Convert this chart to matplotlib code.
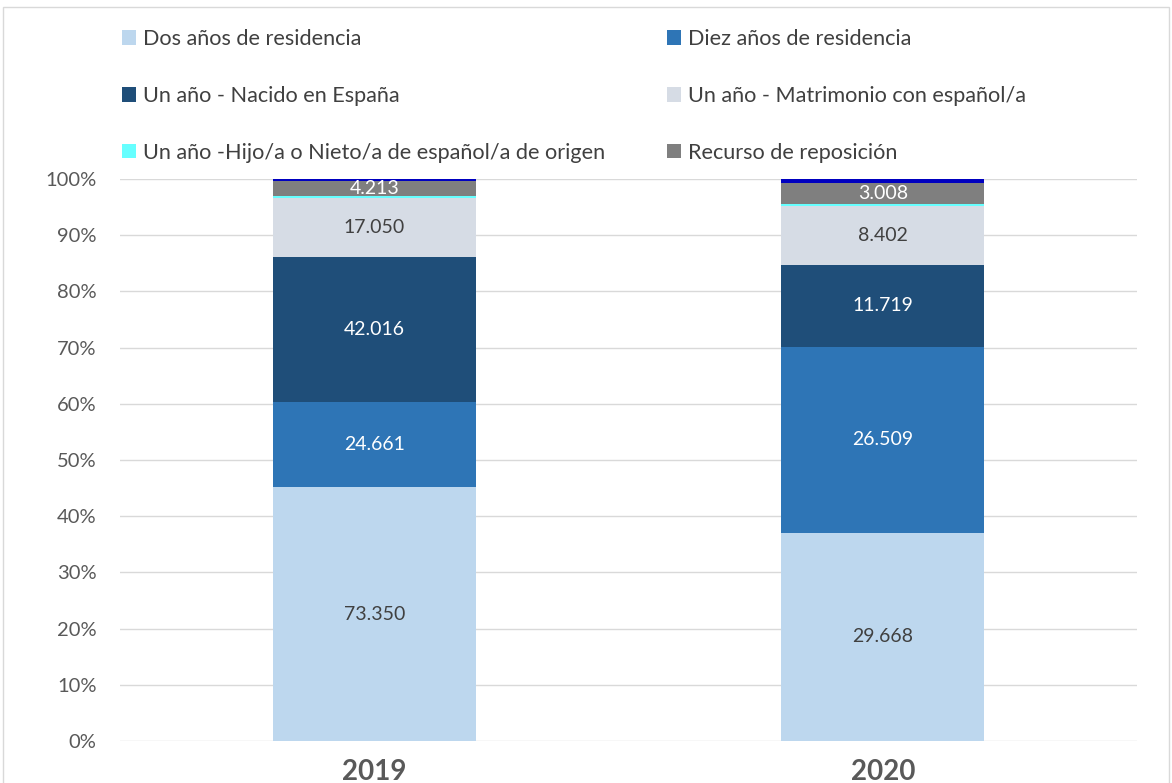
import numpy as np
import matplotlib.pyplot as plt
from matplotlib.patches import Rectangle

years = ["2019", "2020"]
dos_anos = [73350, 29668]
diez_anos = [24661, 26509]
nacido = [42016, 11719]
matrimonio = [17050, 8402]
hijo_nieto = [600, 300]
recurso = [4213, 3008]
otros = [700, 500]

series = [
    ("Dos años de residencia", dos_anos, "#BDD7EE", "#404040"),
    ("Diez años de residencia", diez_anos, "#2E75B6", "white"),
    ("Un año - Nacido en España", nacido, "#1F4E79", "white"),
    ("Un año - Matrimonio con español/a", matrimonio, "#D6DCE5", "#404040"),
    ("Un año -Hijo/a o Nieto/a de español/a de origen", hijo_nieto, "#66FFFF", None),
    ("Recurso de reposición", recurso, "#7F7F7F", "white"),
    ("Otros", otros, "#0000C0", None),
]

plt.rcParams['font.family'] = ['Lato', 'DejaVu Sans']

fig = plt.figure(figsize=(11.72, 7.83), dpi=100)
ax = fig.add_axes([120 / 1172, 42 / 783, 1017 / 1172, 562 / 783])

totals = np.sum([s[1] for s in series], axis=0)
x = np.arange(len(years))
bottom = np.zeros(len(years))
handles = {}
for name, vals, color, tcol in series:
    pct = np.array(vals) / totals
    bars = ax.bar(x, pct, 0.4, bottom=bottom, color=color, label=name, zorder=3)
    handles[name] = bars
    if tcol is not None:
        for xi, b, p, v in zip(x, bottom, pct, vals):
            ax.text(xi, b + p / 2, f"{v:,}".replace(",", "."), ha="center", va="center",
                    color=tcol, fontsize=14, zorder=4)
    bottom = bottom + pct

ax.set_xlim(-0.5, 1.5)
ax.set_ylim(0, 1)
ax.set_yticks(np.arange(0, 1.01, 0.1))
ax.set_yticklabels([f"{int(round(t * 100))}%" for t in np.arange(0, 1.01, 0.1)])
ax.yaxis.grid(True, color="#D9D9D9", linewidth=1, zorder=0)
ax.tick_params(axis="y", length=0, pad=17, labelsize=14.5, labelcolor="#595959")
ax.tick_params(axis="x", length=0, pad=13, labelsize=20, labelcolor="#595959")
ax.set_xticks(x)
ax.set_xticklabels(years, fontweight="bold")
for sp in ax.spines.values():
    sp.set_visible(False)

names = [s[0] for s in series]
col1 = [names[0], names[2], names[4]]
col2 = [names[1], names[3], names[5]]
for col, xpos in [(col1, 122), (col2, 667)]:
    leg = fig.legend([handles[n] for n in col], col, loc="upper left",
                     bbox_to_anchor=(xpos / 1172, 1 - 29 / 783), frameon=False,
                     fontsize=15.6, handlelength=0.66, handleheight=0.66,
                     handletextpad=0.33, labelspacing=1.7, borderpad=0,
                     borderaxespad=0)
    for t in leg.get_texts():
        t.set_color("#404040")

fig.patches.append(Rectangle((3 / 1172, -0.01), 1166 / 1172, 1 - 7 / 783 + 0.01,
                             transform=fig.transFigure, fill=False,
                             edgecolor="#D9D9D9", linewidth=1))

fig.savefig("out.png", dpi=100)
